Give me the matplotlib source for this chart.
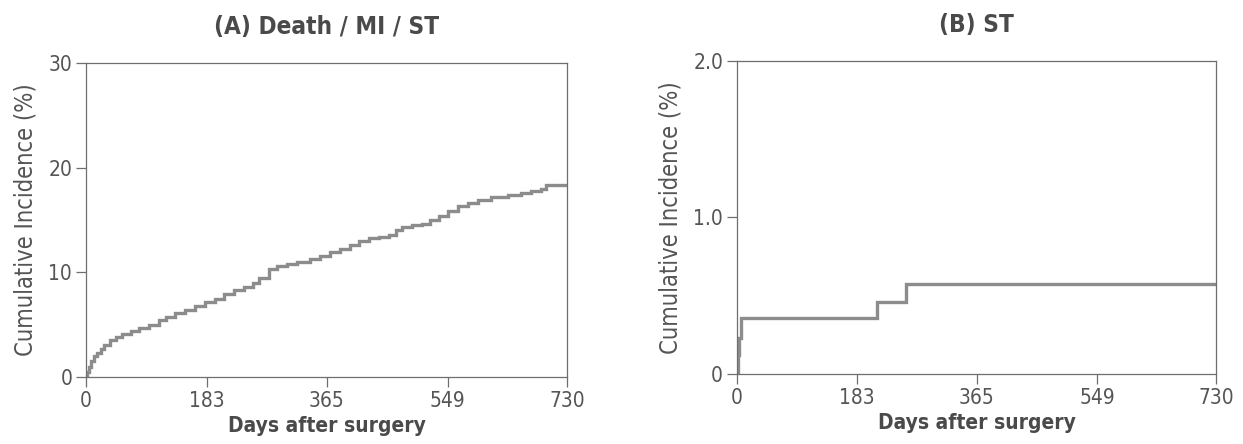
import matplotlib
matplotlib.use("Agg")
import os
import matplotlib.pyplot as plt
from matplotlib import font_manager
from matplotlib.font_manager import FontProperties

# ---------------- data ----------------
days_a = [0, 1, 4, 8, 12, 16, 22, 28, 36, 45, 55, 68, 80, 95, 110, 122, 135, 150,
          165, 180, 195, 210, 225, 240, 253, 262, 278, 290, 305, 320, 340, 355,
          370, 385, 400, 415, 430, 445, 460, 470, 480, 495, 510, 522, 535, 550,
          565, 580, 595, 615, 640, 660, 675, 690, 698, 730]
inc_a = [0.0, 0.5, 1.0, 1.5, 2.0, 2.3, 2.7, 3.1, 3.5, 3.8, 4.1, 4.4, 4.7, 5.0, 5.4,
         5.7, 6.1, 6.4, 6.8, 7.2, 7.5, 7.9, 8.3, 8.6, 9.0, 9.5, 10.3, 10.6, 10.8,
         11.0, 11.3, 11.6, 11.9, 12.2, 12.6, 13.0, 13.3, 13.4, 13.6, 14.0, 14.3,
         14.5, 14.6, 15.0, 15.4, 15.9, 16.3, 16.6, 16.9, 17.2, 17.4, 17.6, 17.8,
         18.0, 18.3, 18.3]

days_b = [0, 1, 3, 6, 214, 258, 730]
inc_b = [0.0, 0.12, 0.23, 0.36, 0.46, 0.575, 0.575]

xticks = [0, 183, 365, 549, 730]
yticks_a = [0, 10, 20, 30]
yticks_b = [0, 1.0, 2.0]
yticklabels_b = ["0", "1.0", "2.0"]

title_a = "(A) Death / MI / ST"
title_b = "(B) ST"
xlabel = "Days after surgery"
ylabel = "Cumulative Incidence (%)"

# ---------------- fonts: look for a condensed sans ----------------
files = [f.fname for f in font_manager.fontManager.ttflist]


def find(keys_list):
    for keys in keys_list:
        for fn in files:
            b = os.path.basename(fn).lower()
            if all(k in b for k in keys):
                return fn
    return None


reg_file = find([("liberationsansnarrow-regular",), ("dejavusanscondensed.ttf",),
                 ("opensans_condensed-regular",), ("opensans-condensed",),
                 ("notosans-condensed.",), ("notosans-condensedregular",),
                 ("roboto_condensed-regular",), ("robotocondensed-regular",)])
bold_file = find([("liberationsansnarrow-bold.",), ("dejavusanscondensed-bold.",),
                  ("opensans_condensed-bold.",), ("opensans-condensedbold",),
                  ("notosans-condensedbold.",), ("roboto_condensed-bold.",),
                  ("robotocondensed-bold.",)])

if reg_file:
    fp_reg = lambda s: FontProperties(fname=reg_file, size=s)
else:
    fp_reg = lambda s: FontProperties(family="Open Sans", size=s)
if bold_file:
    fp_bold = lambda s: FontProperties(fname=bold_file, size=s)
else:
    fp_bold = lambda s: FontProperties(family="Open Sans", weight="bold", size=s)

line_col = "#8c8c8c"
spine_col = "#6e6e6e"
text_col = "#555555"
title_col = "#4a4a4a"

fig = plt.figure(figsize=(12.43, 4.44), dpi=100)
ax_a = fig.add_axes([0.0692, 0.1509, 0.3870, 0.7072])
ax_b = fig.add_axes([0.5929, 0.1577, 0.3854, 0.7050])


def style(ax, ylim, yticks, ylabels):
    ax.set_xlim(0, 730)
    ax.set_ylim(*ylim)
    ax.set_xticks(xticks)
    ax.set_xticklabels([str(t) for t in xticks], fontproperties=fp_reg(15))
    ax.set_yticks(yticks)
    ax.set_yticklabels(ylabels, fontproperties=fp_reg(15))
    for s in ax.spines.values():
        s.set_color(spine_col)
        s.set_linewidth(0.9)
    ax.tick_params(direction='out', length=7, width=0.9, color=spine_col,
                   labelcolor=text_col, pad=3)
    ax.set_xlabel(xlabel, fontproperties=fp_bold(15), color=title_col, labelpad=4)
    ax.set_ylabel(ylabel, fontproperties=fp_reg(17), color=text_col, labelpad=8)


ax_a.step(days_a, inc_a, where='post', color=line_col, lw=2.4, solid_joinstyle='miter')
style(ax_a, (0, 30), yticks_a, [str(t) for t in yticks_a])
ax_a.set_title(title_a, fontproperties=fp_bold(17.5), color=title_col, pad=21)

ax_b.step(days_b, inc_b, where='post', color=line_col, lw=2.4, solid_joinstyle='miter')
style(ax_b, (0, 2.0), yticks_b, yticklabels_b)
ax_b.set_title(title_b, fontproperties=fp_bold(17.5), color=title_col, pad=21)

fig.savefig("out.png", dpi=100, facecolor="white")
